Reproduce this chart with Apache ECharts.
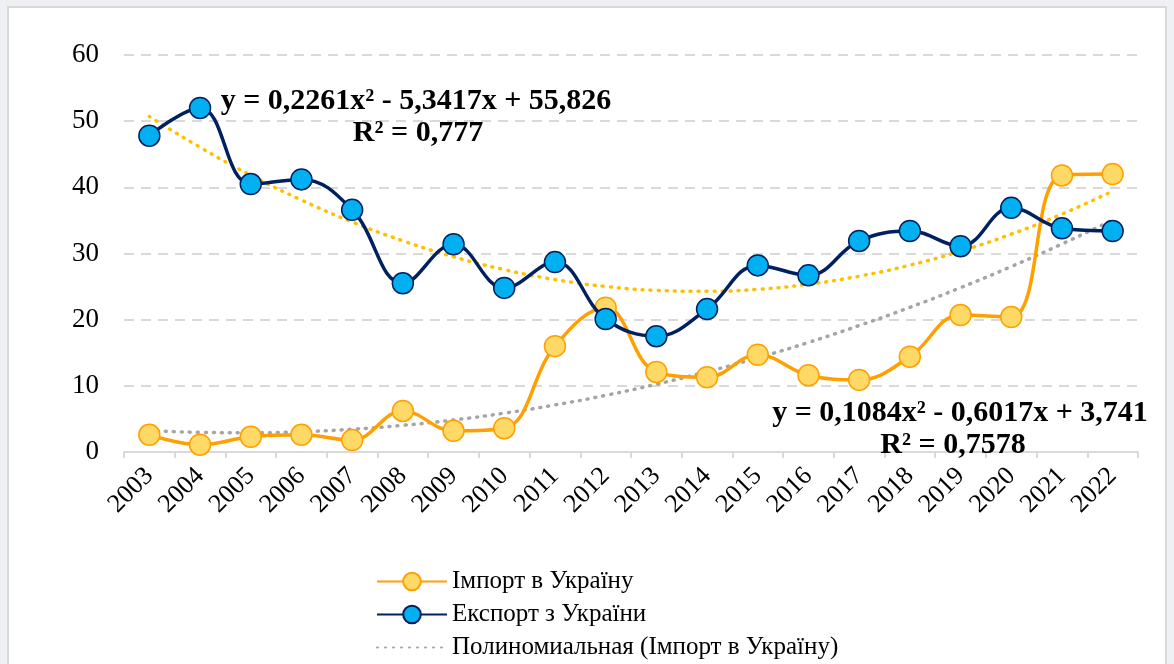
<!DOCTYPE html>
<html>
<head>
<meta charset="utf-8">
<script src="https://cdn.jsdelivr.net/npm/echarts@6/dist/echarts.min.js"></script>
<style>
  html, body { margin: 0; padding: 0; background: #eef0f4; }
  #panel {
    position: absolute; left: 7px; top: 6px; width: 1160px; height: 670px;
    background: #fff; border: 2px solid #d9d9d9; box-sizing: border-box;
  }
  #chart { position: absolute; left: 0; top: 0; width: 1174px; height: 664px; }
</style>
</head>
<body>
<div id="panel"></div>
<div id="chart"></div>
<script>
// роки
const years = ['2003', '2004', '2005', '2006', '2007', '2008', '2009', '2010', '2011', '2012',
  '2013', '2014', '2015', '2016', '2017', '2018', '2019', '2020', '2021', '2022']

// Імпорт в Україну
const importValues = [2.6, 1.1, 2.3, 2.6, 1.8, 6.2, 3.2, 3.6, 16.0, 21.8,
  12.1, 11.3, 14.7, 11.6, 10.9, 14.4, 20.7, 20.4, 41.8, 42.0]

// Експорт з України
const exportValues = [47.8, 52.0, 40.5, 41.2, 36.6, 25.5, 31.4, 24.8, 28.7, 20.1,
  17.5, 21.6, 28.2, 26.7, 31.9, 33.4, 31.1, 36.9, 33.8, 33.4]

// линии тренда
const importTrend = [3.25, 2.97, 2.91, 3.07, 3.44, 4.03, 4.84, 5.87, 7.11, 8.56,
  10.24, 12.13, 14.24, 16.56, 19.11, 21.86, 24.84, 28.03, 31.44, 35.07]
const exportTrend = [50.71, 46.05, 41.84, 38.08, 34.77, 31.92, 29.51, 27.56, 26.06, 25.02,
  24.43, 24.28, 24.59, 25.36, 26.57, 28.24, 30.36, 32.93, 35.96, 39.43]

const yTicks = [0, 10, 20, 30, 40, 50, 60]

const serif = 'Liberation Serif'
const eqFont = 'bold 30px "Liberation Serif", serif'

const chart = echarts.init(document.getElementById('chart'))

chart.setOption({
  animation: false,
  grid: {
    left: 124,
    right: 36,
    top: 55,
    bottom: 212,
  },
  legend: {
    orient: 'vertical',
    left: 371,
    top: 564,
    height: 120,
    itemWidth: 70,
    itemHeight: 22,
    itemGap: 8,
    textStyle: { fontFamily: serif, fontSize: 25, color: '#000' },
    data: [
      'Імпорт в Україну',
      'Експорт з України',
      {
        name: 'Полиномиальная (Імпорт в Україну)',
        itemStyle: { color: 'rgba(0,0,0,0)', borderColor: 'rgba(0,0,0,0)' },
      },
    ],
  },
  xAxis: {
    type: 'category',
    data: years,
    boundaryGap: true,
    axisLine: { lineStyle: { color: '#d9d9d9', width: 2 } },
    axisTick: { show: true, length: 6, lineStyle: { color: '#d9d9d9', width: 2 } },
    axisLabel: {
      interval: 0,
      rotate: 45,
      margin: 20,
      fontFamily: serif,
      fontSize: 26,
      color: '#000',
    },
  },
  yAxis: {
    type: 'value',
    min: yTicks[0],
    max: yTicks[yTicks.length - 1],
    interval: 10,
    axisLine: { show: false },
    axisTick: { show: false },
    axisLabel: { fontFamily: serif, fontSize: 27, color: '#000', margin: 25 },
    splitLine: { lineStyle: { color: '#d9d9d9', width: 2, type: [10, 7] } },
  },
  series: [
    {
      name: 'Полиномиальная (Імпорт в Україну)',
      type: 'line',
      smooth: true,
      data: importTrend,
      symbol: 'none',
      z: 1,
      itemStyle: { color: '#a5a5a5' },
      lineStyle: { color: '#a5a5a5', width: 3.5, type: [1, 7], cap: 'round' },
    },
    {
      name: 'Полиномиальная (Експорт з України)',
      type: 'line',
      smooth: true,
      data: exportTrend,
      symbol: 'none',
      z: 1,
      itemStyle: { color: '#ffc000' },
      lineStyle: { color: '#ffc000', width: 3.5, type: [1, 7], cap: 'round' },
    },
    {
      name: 'Імпорт в Україну',
      type: 'line',
      smooth: 0.4,
      data: importValues,
      symbol: 'circle',
      symbolSize: 21,
      z: 3,
      lineStyle: { color: '#ffa000', width: 3.5 },
      itemStyle: { color: '#ffd966', borderColor: '#ffa000', borderWidth: 1.5 },
    },
    {
      name: 'Експорт з України',
      type: 'line',
      smooth: 0.4,
      data: exportValues,
      symbol: 'circle',
      symbolSize: 21,
      z: 4,
      lineStyle: { color: '#002060', width: 3.5 },
      itemStyle: { color: '#00b0f0', borderColor: '#002060', borderWidth: 1.5 },
    },
  ],
  graphic: [
    {
      type: 'text', x: 416, y: 101, z: 10,
      style: { text: 'y = 0,2261x² - 5,3417x + 55,826', font: eqFont, fill: '#000', align: 'center', verticalAlign: 'middle' },
    },
    {
      type: 'text', x: 418, y: 133, z: 10,
      style: { text: 'R² = 0,777', font: eqFont, fill: '#000', align: 'center', verticalAlign: 'middle' },
    },
    {
      type: 'text', x: 960, y: 413, z: 10,
      style: { text: 'y = 0,1084x² - 0,6017x + 3,741', font: eqFont, fill: '#000', align: 'center', verticalAlign: 'middle' },
    },
    {
      type: 'text', x: 953, y: 445, z: 10,
      style: { text: 'R² = 0,7578', font: eqFont, fill: '#000', align: 'center', verticalAlign: 'middle' },
    },
  ],
})
</script>
</body>
</html>
